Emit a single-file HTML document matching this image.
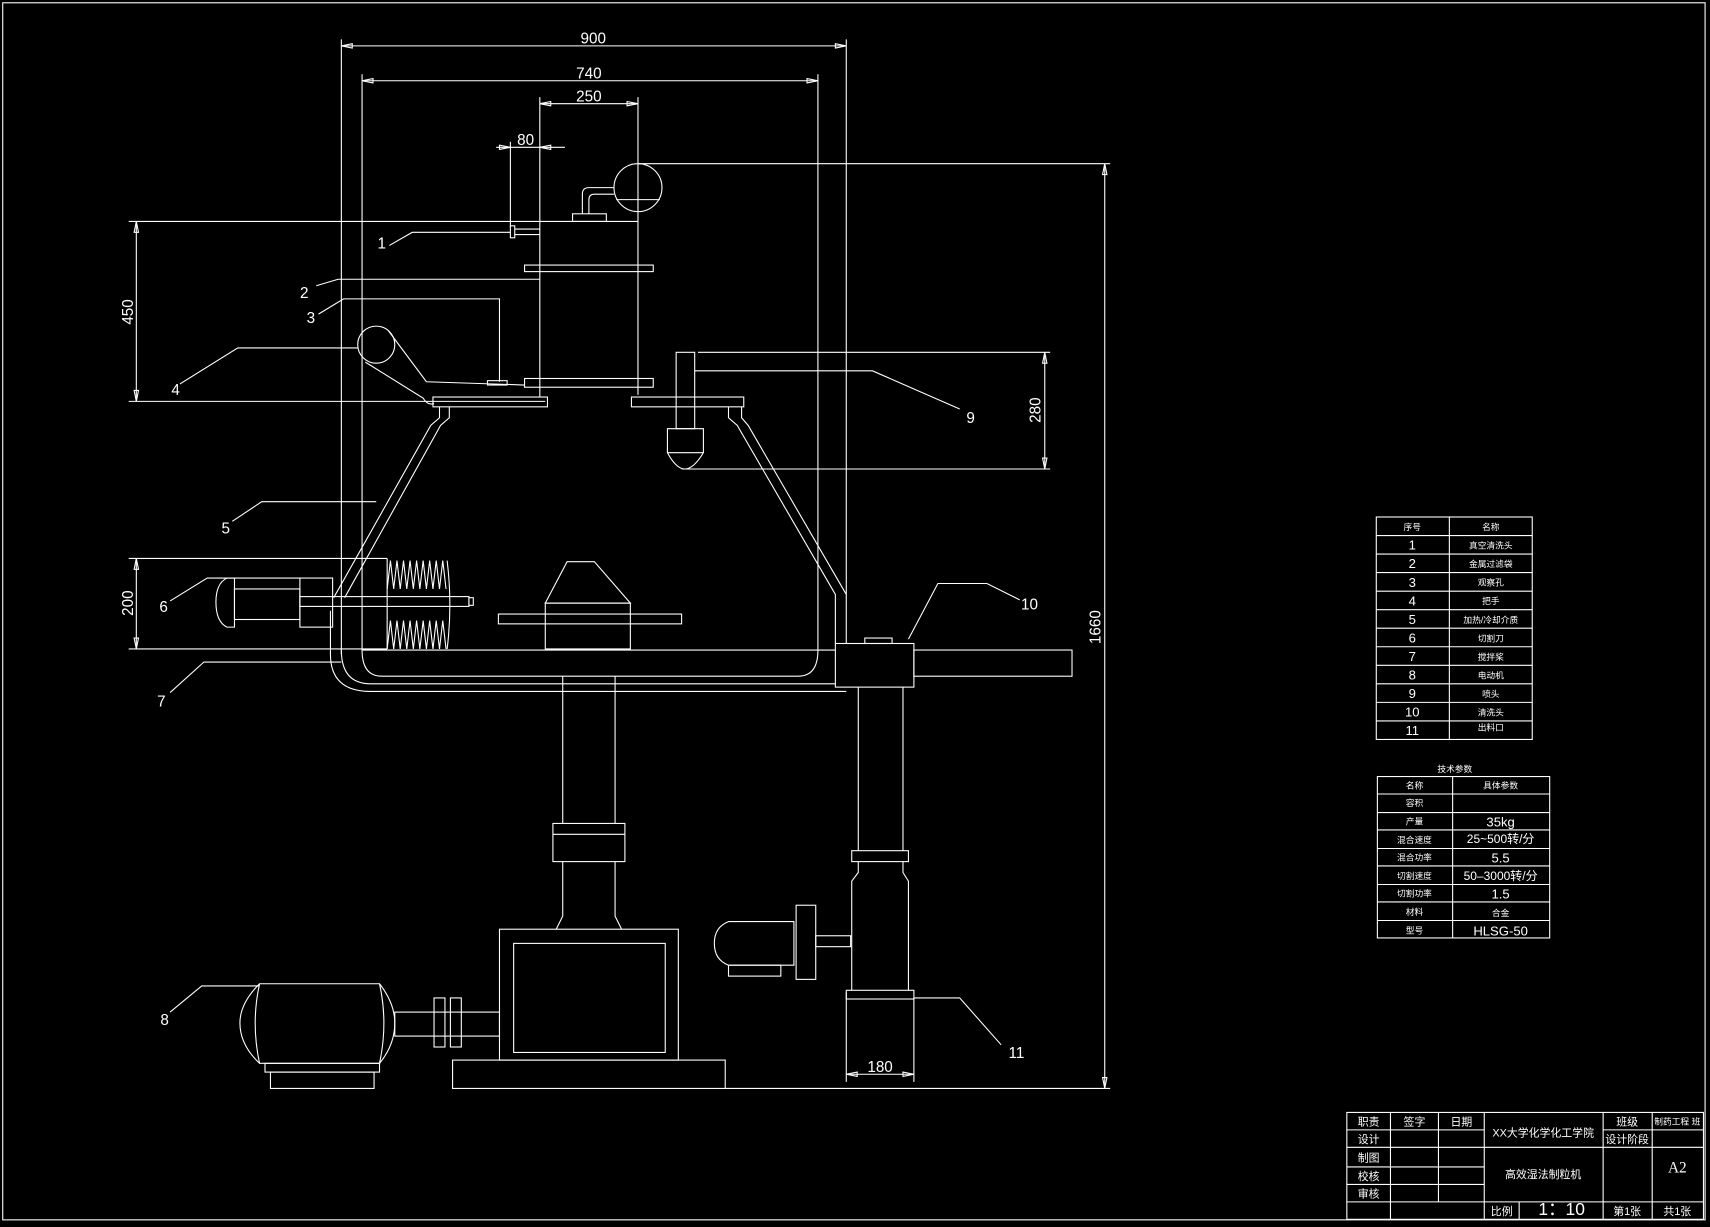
<!DOCTYPE html>
<html><head><meta charset="utf-8"><style>
html,body{margin:0;padding:0;background:#000;}
svg{display:block;}
text{fill:#fff;font-family:"Liberation Sans","Noto Sans CJK SC",sans-serif;}
.c{font-size:8px;text-anchor:middle;}
.n{font-size:12px;text-anchor:middle;}
.d{font-size:14px;text-anchor:middle;}
</style></head><body>
<svg width="1710" height="1227" viewBox="0 0 1568 1125" xmlns="http://www.w3.org/2000/svg">
<rect width="1568" height="1125" fill="#000"/>
<g fill="none" stroke="#fff" stroke-width="1">
<rect x="2.5" y="2.5" width="1561" height="1116"/>
<line x1="313" y1="42" x2="776" y2="42"/><line x1="313" y1="36" x2="313" y2="600"/><line x1="776" y1="36" x2="776" y2="590"/>
<line x1="332" y1="74" x2="750" y2="74"/><line x1="332" y1="68" x2="332" y2="596"/><line x1="750" y1="68" x2="750" y2="596"/>
<line x1="495" y1="95" x2="585" y2="95"/><line x1="495" y1="89" x2="495" y2="364"/><line x1="585" y1="89" x2="585" y2="203"/>
<line x1="455" y1="135" x2="518" y2="135"/><line x1="468" y1="130" x2="468" y2="208"/>
<line x1="125" y1="203" x2="125" y2="368"/><line x1="118" y1="203" x2="495" y2="203"/><line x1="118" y1="368" x2="500" y2="368"/>
<line x1="125" y1="512" x2="125" y2="595"/><line x1="118" y1="512" x2="355" y2="512"/><line x1="118" y1="595" x2="355" y2="595"/>
<line x1="958" y1="323" x2="958" y2="430"/><line x1="640" y1="323" x2="963" y2="323"/><line x1="625" y1="430" x2="963" y2="430"/>
<line x1="1013" y1="150" x2="1013" y2="998"/><line x1="585" y1="150" x2="1018" y2="150"/><line x1="665" y1="998" x2="1018" y2="998"/>
<line x1="776" y1="985" x2="838" y2="985"/><line x1="776" y1="910" x2="776" y2="992"/><line x1="838" y1="915" x2="838" y2="992"/>
<path d="M313 42 l10 -2 v4z M776 42 l-10 -2 v4z M332 74 l10 -2 v4z M750 74 l-10 -2 v4z M495 95 l10 -2 v4z M585 95 l-10 -2 v4z M468 135 l-10 -2 v4z M495 135 l10 -2 v4z M125 203 l-2 10 h4z M125 368 l-2 -10 h4z M125 512 l-2 10 h4z M125 595 l-2 -10 h4z M958 323 l-2 10 h4z M958 430 l-2 -10 h4z M1013 150 l-2 10 h4z M1013 998 l-2 -10 h4z M776 985 l10 -2 v4z M838 985 l-10 -2 v4z"/>
<line x1="495" y1="203" x2="585" y2="203"/><line x1="585" y1="203" x2="585" y2="362"/>
<rect x="481" y="243" width="118" height="6"/><rect x="481" y="347" width="118" height="8"/>
<rect x="525" y="196" width="31" height="7"/>
<path d="M534 196 V178 q0 -6 6 -6 H563 M540 196 V183 q0 -5 5 -5 H563"/>
<circle cx="585" cy="172" r="22"/><line x1="565" y1="183" x2="605" y2="183"/>
<rect x="468" y="207" width="4" height="11"/><line x1="472" y1="210" x2="495" y2="210"/><line x1="472" y1="215" x2="495" y2="215"/>
<path d="M357 225 L378 213 H468"/>
<path d="M290 262 L310 256 H495"/>
<path d="M292 288 L315 274 H458 V350"/><rect x="447" y="349" width="18" height="4"/>
<circle cx="345" cy="316" r="17"/><path d="M356 303 L391 350 L481 353 M335 332 L388 365 Q392 372 398 370"/>
<path d="M165 352 L218 319 H328"/>
<rect x="397" y="364" width="105" height="9"/><rect x="579" y="364" width="103" height="9"/>
<path d="M403 373 V383 L395 390 L306 548 M412 373 V383 L404 390 L316 548"/>
<path d="M668 373 V383 L676 390 L766 545 V590 M680 373 V383 L686 390 L776 545"/>
<rect x="620" y="323" width="17" height="70"/>
<path d="M612 393 H645 V415 Q636 430 628 430 Q620 430 612 415Z M612 415 H645"/>
<path d="M637 340 H800 L880 375"/>
<path d="M213 478 L240 460 H345"/>
<path d="M208 530 Q198 535 198 552 Q198 570 208 575 H215 V530Z"/><rect x="215" y="540" width="60" height="28"/><rect x="275" y="530" width="30" height="45"/>
<rect x="275" y="547" width="155" height="9"/><rect x="430" y="548" width="4" height="7"/>
<path d="M156 551 L190 530 H275"/>
<path d="M355 540 L358 514 L361 540 L364 514 L367 540 L370 514 L373 540 L376 514 L379 540 L382 514 L385 540 L388 514 L391 540 L394 514 L397 540 L400 514 L403 540 L406 514 L409 540"/>
<path d="M355 595 L358 569 L361 595 L364 569 L367 595 L370 569 L373 595 L376 569 L379 595 L382 569 L385 595 L388 569 L391 595 L394 569 L397 595 L400 569 L403 595 L406 569 L409 595"/>
<path d="M410 514 Q415 555 410 595 M355 512 V595"/>
<path d="M156 635 L187 607 H313"/>
<path d="M332 596 Q332 620 350 620 H732 Q750 620 750 596 M332 596 H766"/>
<path d="M313 596 Q313 627 340 627 H766 M303 560 V600 Q303 634 340 634 H776"/>
<path d="M500 553 L520 515 H545 L578 553Z"/><rect x="500" y="553" width="78" height="42"/><rect x="457" y="563" width="168" height="9"/>
<rect x="766" y="590" width="72" height="40"/><rect x="838" y="596" width="145" height="24"/><rect x="793" y="585" width="25" height="5"/>
<path d="M833 586 L860 535 H905 L935 550"/>
<path d="M516 620 V755 M564 620 V755"/><rect x="507" y="755" width="66" height="35"/><line x1="507" y1="765" x2="573" y2="765"/>
<path d="M516 790 V840 L510 852 M564 790 V840 L570 852"/>
<rect x="458" y="852" width="164" height="120"/><rect x="471" y="865" width="139" height="100"/><rect x="415" y="972" width="250" height="26"/>
<path d="M238 902 H348 Q362 920 362 938 Q362 958 348 975 H238 Q220 958 220 938 Q220 920 238 902Z M238 902 Q230 938 238 975 M348 902 Q356 938 348 975"/>
<rect x="243" y="975" width="105" height="8"/><rect x="248" y="983" width="95" height="15"/>
<rect x="362" y="928" width="96" height="22"/><rect x="398" y="915" width="10" height="45"/><rect x="413" y="915" width="10" height="45"/>
<path d="M156 928 L185 904 H238"/>
<path d="M787 630 V780 M828 630 V780"/><rect x="781" y="780" width="52" height="10"/>
<path d="M787 790 V800 L781 808 V908 M828 790 V800 L833 808 V908"/><rect x="776" y="908" width="62" height="8"/>
<path d="M668 845 H728 V885 H668 Q655 880 655 865 Q655 850 668 845Z"/><rect x="668" y="885" width="48" height="10"/>
<rect x="730" y="830" width="18" height="68"/><rect x="748" y="858" width="32" height="10"/>
<path d="M838 915 H880 L918 958"/>
<rect x="1262" y="474" width="143" height="204"/><line x1="1329" y1="474" x2="1329" y2="678"/>
<path d="M1262 491H1405M1262 508H1405M1262 525H1405M1262 542H1405M1262 559H1405M1262 576H1405M1262 593H1405M1262 610H1405M1262 627H1405M1262 644H1405M1262 661H1405"/>
<rect x="1263" y="712" width="158" height="148"/><line x1="1332" y1="712" x2="1332" y2="860"/>
<path d="M1263 728H1421M1263 745H1421M1263 761H1421M1263 778H1421M1263 794H1421M1263 811H1421M1263 827H1421M1263 844H1421"/>
<rect x="1235" y="1020" width="327" height="98"/>
<path d="M1275 1020V1118M1319 1020V1102M1361 1020V1118M1393 1102V1118M1470 1020V1118M1515 1020V1118"/>
<path d="M1235 1036H1361M1235 1052H1361M1235 1070H1361M1235 1086H1361M1235 1102H1562M1361 1052H1470M1470 1036H1562M1470 1052H1562"/>
</g>
<text class="d" x="544" y="40">900</text><text class="d" x="540" y="72">740</text><text class="d" x="540" y="93">250</text><text class="d" x="482" y="133">80</text>
<text class="d" transform="translate(122,286) rotate(-90)">450</text><text class="d" transform="translate(122,553) rotate(-90)">200</text>
<text class="d" transform="translate(954,376) rotate(-90)">280</text><text class="d" transform="translate(1009,575) rotate(-90)">1660</text>
<text class="d" x="807" y="983">180</text>
<text class="d" x="350" y="228">1</text><text class="d" x="279" y="273">2</text><text class="d" x="285" y="296">3</text><text class="d" x="161" y="362">4</text>
<text class="d" x="207" y="489">5</text><text class="d" x="150" y="561">6</text><text class="d" x="148" y="648">7</text><text class="d" x="151" y="940">8</text>
<text class="d" x="890" y="388">9</text><text class="d" x="944" y="559">10</text><text class="d" x="932" y="970">11</text>
<text class="c" x="1295" y="486">序号</text><text class="c" x="1367" y="486">名称</text>
<text class="n" x="1295" y="504">1</text><text class="c" x="1367" y="503">真空清洗头</text>
<text class="n" x="1295" y="521">2</text><text class="c" x="1367" y="520">金属过滤袋</text>
<text class="n" x="1295" y="538">3</text><text class="c" x="1367" y="537">观察孔</text>
<text class="n" x="1295" y="555">4</text><text class="c" x="1367" y="554">把手</text>
<text class="n" x="1295" y="572">5</text><text class="c" x="1367" y="571">加热/冷却介质</text>
<text class="n" x="1295" y="589">6</text><text class="c" x="1367" y="588">切割刀</text>
<text class="n" x="1295" y="606">7</text><text class="c" x="1367" y="605">搅拌桨</text>
<text class="n" x="1295" y="623">8</text><text class="c" x="1367" y="622">电动机</text>
<text class="n" x="1295" y="640">9</text><text class="c" x="1367" y="639">喷头</text>
<text class="n" x="1295" y="657">10</text><text class="c" x="1367" y="656">清洗头</text>
<text class="n" x="1295" y="674">11</text><text class="c" x="1367" y="670">出料口</text>
<text class="c" x="1334" y="708">技术参数</text>
<text class="c" x="1297" y="723">名称</text><text class="c" x="1376" y="723">具体参数</text>
<text class="c" x="1297" y="739">容积</text>
<text class="c" x="1297" y="756">产量</text><text class="n" x="1376" y="758">35kg</text>
<text class="c" x="1297" y="773">混合速度</text><text class="n" x="1376" y="773" style="font-size:11px">25~500转/分</text>
<text class="c" x="1297" y="789">混合功率</text><text class="n" x="1376" y="791">5.5</text>
<text class="c" x="1297" y="806">切割速度</text><text class="n" x="1376" y="807" style="font-size:11px">50–3000转/分</text>
<text class="c" x="1297" y="822">切割功率</text><text class="n" x="1376" y="824">1.5</text>
<text class="c" x="1297" y="839">材料</text><text class="c" x="1376" y="840">合金</text>
<text class="c" x="1297" y="856">型号</text><text class="n" x="1376" y="858">HLSG-50</text>
<text class="c" x="1255" y="1032" style="font-size:10px">职责</text><text class="c" x="1297" y="1032" style="font-size:10px">签字</text><text class="c" x="1340" y="1032" style="font-size:10px">日期</text>
<text class="c" x="1255" y="1048" style="font-size:10px">设计</text><text class="c" x="1255" y="1065" style="font-size:10px">制图</text>
<text class="c" x="1255" y="1082" style="font-size:10px">校核</text><text class="c" x="1255" y="1098" style="font-size:10px">审核</text>
<text class="c" x="1415" y="1042" style="font-size:10px">XX大学化学化工学院</text>
<text class="c" x="1415" y="1080" style="font-size:10px">高效湿法制粒机</text>
<text class="c" x="1377" y="1114" style="font-size:10px">比例</text><text class="n" x="1432" y="1114" style="font-size:16px">1：10</text>
<text class="c" x="1492" y="1114" style="font-size:10px">第1张</text><text class="c" x="1538" y="1114" style="font-size:10px">共1张</text>
<text class="c" x="1492" y="1032" style="font-size:10px">班级</text><text class="c" x="1538" y="1031">制药工程 班</text>
<text class="c" x="1492" y="1048" style="font-size:10px">设计阶段</text>
<text class="n" x="1538" y="1075" style="font-size:14px;font-family:'Liberation Serif',serif">A2</text>
</svg>
</body></html>
